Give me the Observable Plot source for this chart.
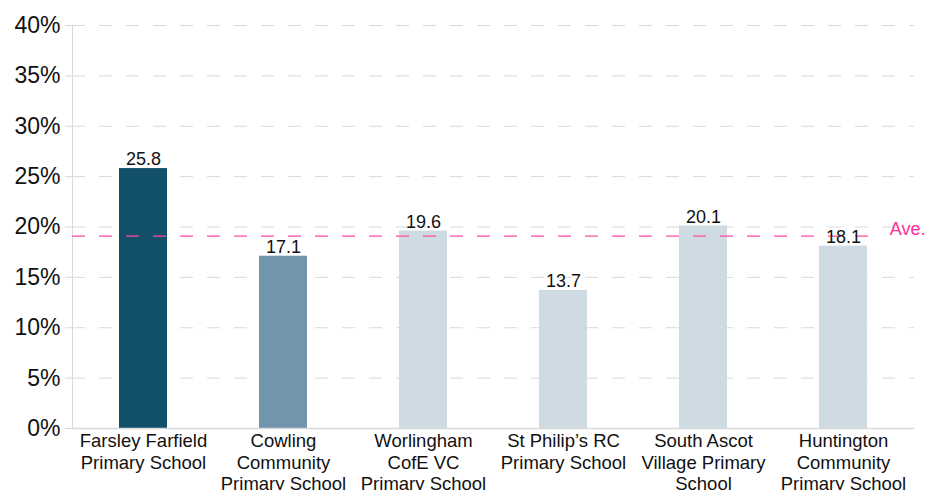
<!DOCTYPE html>
<html>
<head>
<meta charset="utf-8">
<script src="https://cdn.jsdelivr.net/npm/d3@7"></script>
<script src="https://cdn.jsdelivr.net/npm/@observablehq/plot@0.6"></script>
<style>
  body { margin: 0; background: #fff; }
  #chart svg { font-family: "Liberation Sans", Arial, sans-serif; }
</style>
</head>
<body>
<div id="chart"></div>
<script>
const schools = [
  "Farsley Farfield\nPrimary School",
  "Cowling\nCommunity\nPrimary School",
  "Worlingham\nCofE VC\nPrimary School",
  "St Philip’s RC\nPrimary School",
  "South Ascot\nVillage Primary\nSchool",
  "Huntington\nCommunity\nPrimary School"
];
const values = [25.8, 17.1, 19.6, 13.7, 20.1, 18.1];
const barColors = ["#124f68", "#7295ae", "#cedbe3", "#cedbe3", "#cedbe3", "#cedbe3"];
const average = 19.1;
const yTicks = [0, 5, 10, 15, 20, 25, 30, 35, 40];

const data = schools.map((s, i) => ({school: s, value: values[i], color: barColors[i]}));

const chart = Plot.plot({
  width: 925,
  height: 490,
  marginTop: 25,
  marginLeft: 72,
  marginRight: 11,
  marginBottom: 62,
  style: {fontFamily: "Liberation Sans, Arial, sans-serif", background: "#fff"},
  x: {domain: schools, paddingInner: 0.66, paddingOuter: 0.33, label: null},
  y: {domain: [0, 40], label: null},
  marks: [
    Plot.ruleY(yTicks.filter(d => d > 0), {stroke: "#d9d9d9", strokeWidth: 1, strokeDasharray: "13,14"}),
    Plot.axisY({ticks: yTicks, tickFormat: d => d + "%", fontSize: 23, tickSize: 7, tickPadding: 5, stroke: "#d9d9d9", color: "#111", label: null}),
    Plot.frame({anchor: "left", stroke: "#d9d9d9"}),
    Plot.barY(data, {x: "school", y: "value", fill: "color"}),
    Plot.ruleY([0], {stroke: "#d9d9d9", strokeWidth: 1.5}),
    Plot.ruleY([average], {stroke: "#ff4aa5", strokeWidth: 1.2, strokeDasharray: "13,14", insetRight: 34}),
    Plot.text([average], {y: d => d, frameAnchor: "right", text: () => "Ave.", textAnchor: "end", dx: 11, dy: -7, fill: "#ff2f9a", fontSize: 18}),
    Plot.text(data, {x: "school", y: "value", text: d => d.value.toFixed(1), dy: -9, fontSize: 18, fill: "#111"}),
    Plot.axisX({fontSize: 18.5, tickSize: 0, tickPadding: 4, lineHeight: 1.14, color: "#111", label: null})
  ]
});
document.getElementById("chart").appendChild(chart);
</script>
</body>
</html>
